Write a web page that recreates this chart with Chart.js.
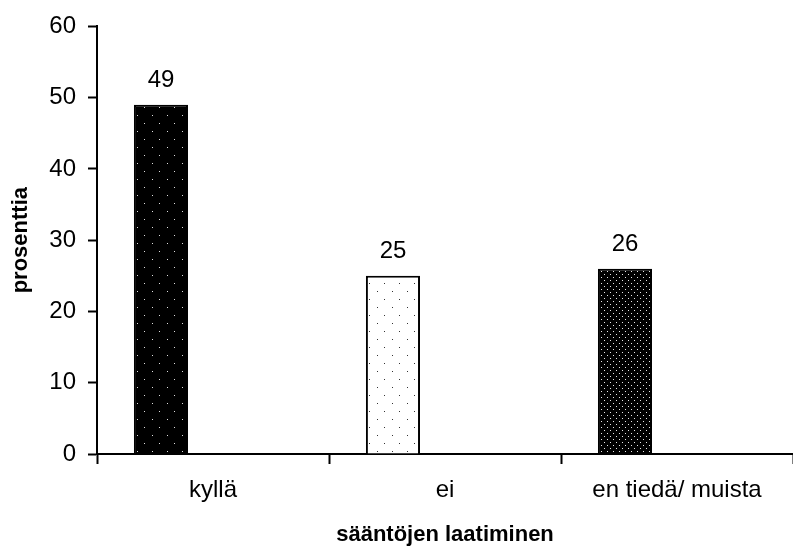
<!DOCTYPE html>
<html lang="fi">
<head>
<meta charset="UTF-8" />
<title>Sääntöjen laatiminen</title>
<script src="https://cdn.jsdelivr.net/npm/chart.js"></script>
<style>
  html, body { margin: 0; padding: 0; background: #fff; overflow: hidden; }
  .wrap { width: 793px; height: 548px; position: relative; }
</style>
</head>
<body>
<div class="wrap"><canvas id="kaavio"></canvas></div>
<script>
// kaavion tiedot
const kategoriat = ['kyllä', 'ei', 'en tiedä/ muista'];
const prosentit = [49, 25, 26];
const yTiedot = { min: 0, max: 60, step: 10 };
const yOtsikko = 'prosenttia';
const xOtsikko = 'sääntöjen laatiminen';

// pistekuviot pylväisiin
function kuvio(tausta, piste, w, h, pisteet) {
  const c = document.createElement('canvas');
  c.width = w; c.height = h;
  const g = c.getContext('2d');
  g.fillStyle = tausta;
  g.fillRect(0, 0, w, h);
  g.fillStyle = piste;
  pisteet.forEach(p => g.fillRect(p[0], p[1], 1, 1));
  return g.createPattern(c, 'repeat');
}
const kuviot = [
  kuvio('#000', '#e0e0e0', 15, 16, [[2, 3], [9, 11]]),
  kuvio('#fff', '#333', 15, 16, [[2, 3], [9, 11]]),
  kuvio('#000', '#e8e8e8', 6, 6, [[1, 1], [4, 4]])
];

const fontti = 'Liberation Sans, Arial, sans-serif';

// arvot pylväiden yläpuolelle
const arvoTekstit = {
  id: 'arvoTekstit',
  afterDatasetsDraw(chart) {
    const ctx = chart.ctx;
    const meta = chart.getDatasetMeta(0);
    ctx.save();
    ctx.fillStyle = '#000';
    ctx.font = '24px ' + fontti;
    ctx.textAlign = 'center';
    ctx.textBaseline = 'alphabetic';
    meta.data.forEach((bar, i) => {
      ctx.fillText(String(prosentit[i]), bar.x, bar.y - 18);
    });
    ctx.restore();
  }
};

const ctx = document.getElementById('kaavio');
new Chart(ctx, {
  type: 'bar',
  data: {
    labels: kategoriat,
    datasets: [
      {
        data: prosentit,
        backgroundColor: kuviot,
        borderColor: '#000',
        borderWidth: 2,
        borderSkipped: 'bottom',
        categoryPercentage: 0.897,
        barPercentage: 0.52
      },
      {
        // tyhjä sarja, jotta pylväät ovat luokan vasemmalla puolella
        data: [null, null, null],
        categoryPercentage: 0.897,
        barPercentage: 0.52
      }
    ]
  },
  options: {
    responsive: true,
    maintainAspectRatio: false,
    animation: false,
    layout: { padding: { top: 11, right: 0, left: 0, bottom: 0 } },
    plugins: {
      legend: { display: false },
      tooltip: { enabled: false }
    },
    scales: {
      x: {
        offset: true,
        grid: {
          offset: true,
          drawOnChartArea: false,
          drawTicks: true,
          tickLength: 10,
          color: '#000',
          tickWidth: 2
        },
        border: { color: '#000', width: 2 },
        ticks: {
          color: '#000',
          font: { family: fontti, size: 24 },
          padding: 12,
          maxRotation: 0
        },
        title: {
          display: true,
          text: xOtsikko,
          color: '#000',
          font: { family: fontti, size: 22, weight: 'bold' },
          padding: { top: 10, bottom: 0 }
        },
        afterFit(scale) { scale.height = 94; }
      },
      y: {
        min: yTiedot.min,
        max: yTiedot.max,
        grid: {
          drawOnChartArea: false,
          tickLength: 9,
          color: '#000',
          tickWidth: 2
        },
        border: { color: '#000', width: 2 },
        ticks: {
          stepSize: yTiedot.step,
          color: '#000',
          font: { family: fontti, size: 24 },
          padding: 12
        },
        title: {
          display: true,
          text: yOtsikko,
          color: '#000',
          font: { family: fontti, size: 22, weight: 'bold' },
          padding: { top: 8, bottom: 10 }
        },
        afterFit(scale) { scale.width = 97; }
      }
    }
  },
  plugins: [arvoTekstit]
});
</script>
</body>
</html>
